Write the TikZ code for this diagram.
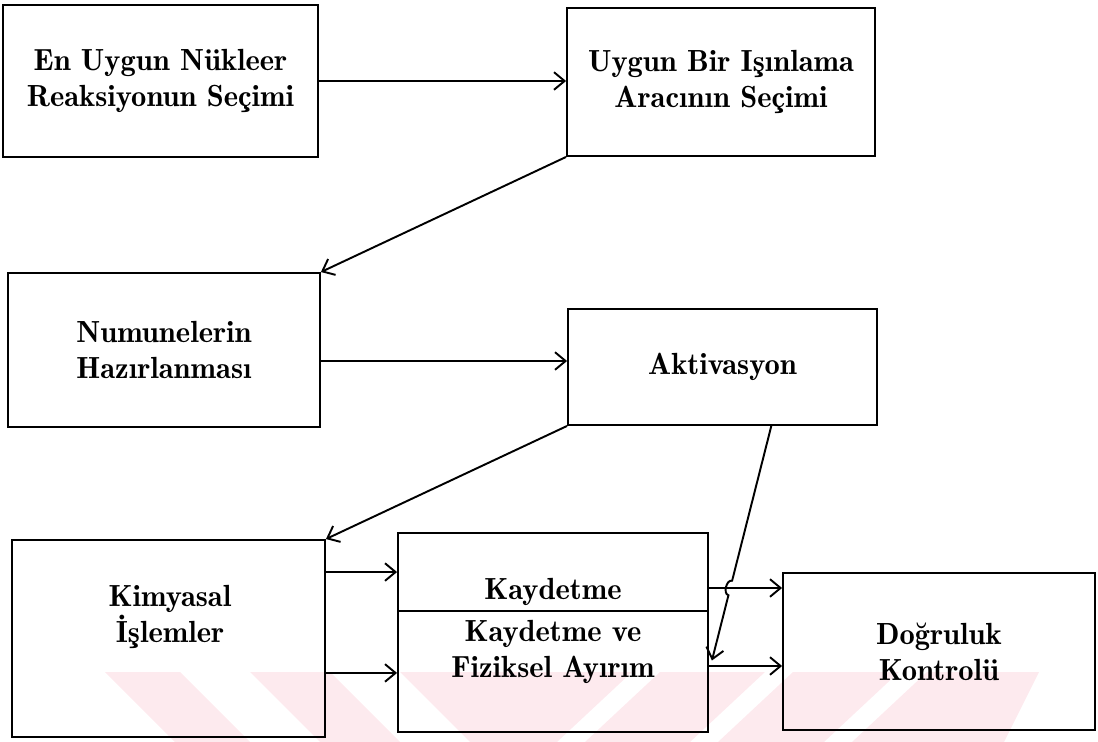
\documentclass[tikz,border=0pt]{standalone}
\usetikzlibrary{arrows.meta,calc}
\definecolor{wmpink}{RGB}{253,234,238}
\tikzset{
	box/.style={draw, line width=1.1pt, align=center, inner sep=0pt},
	txt/.style={align=center, inner sep=0pt},
	arr/.style={line width=1.1pt, -{Straight Barb[length=6pt,width=10pt,line width=1.1pt]}},
}

\begin{document}
\begin{tikzpicture}[x=0.02cm, y=-0.02cm, font=\fontsize{17.4}{20.5}\fontseries{b}\selectfont]
		%%%%% START %%%%%
		\useasboundingbox (0,0) rectangle (1098,742);
		
		\fill[wmpink] (105,672) -- (180,672) -- (250,742) -- (175,742) -- cycle;
		\fill[wmpink] (250,672) -- (330,672) -- (400,742) -- (320,742) -- cycle;
		\fill[wmpink] (400,672) -- (632,672) -- (557,742) -- (470,742) -- cycle;
		\fill[wmpink] (660,672) -- (765,672) -- (690,742) -- (585,742) -- cycle;
		\fill[wmpink] (793,672) -- (899,672) -- (824,742) -- (718,742) -- cycle;
		\fill[wmpink] (927,672) -- (1039,672) -- (1004,742) -- (852,742) -- cycle;
		
		\node[box, minimum width=6.3cm, minimum height=3.04cm] (nukleer) at (160.5,81) {En Uygun Nükleer\\Reaksiyonun Seçimi};
		\node[box, minimum width=6.16cm, minimum height=2.96cm] (isinlama) at (721,82) {Uygun Bir Işınlama\\Aracının Seçimi};
		\node[box, minimum width=6.24cm, minimum height=3.08cm] (numune) at (164,350) {Numunelerin\\Hazırlanması};
		\node[box, minimum width=6.18cm, minimum height=2.32cm] (aktivasyon) at (722.5,367) {Aktivasyon};
		
		\node[box, minimum width=6.26cm, minimum height=3.94cm] (kimyasal) at (168.5,638.5) {};
		\node[txt] (kimyasalT) at (170,617) {Kimyasal\\İşlemler};
		
		\node[box, minimum width=6.2cm, minimum height=1.56cm] (kayit) at (553,572) {};
		\node[box, minimum width=6.2cm, minimum height=2.42cm] (ayirim) at (553,671.5) {};
		\node[txt] (kayitT) at (553,592) {Kaydetme};
		\node[txt] (ayirimT) at (553,652) {Kaydetme ve\\Fiziksel Ayırım};
		
		\node[box, minimum width=6.24cm, minimum height=3.14cm] (dogruluk) at (939,651.5) {Doğruluk\\Kontrolü};
		
		\draw[arr] (nukleer.east) -- (nukleer.east -| isinlama.west);
		\draw[arr] (isinlama.south west) -- (numune.north east);
		\coordinate (n1) at ($(numune.east)+(0,11)$);
		\draw[arr] (n1) -- (n1 -| aktivasyon.west);
		\draw[arr] (aktivasyon.south west) -- (kimyasal.north east);
		
		\coordinate (m1) at ($(kimyasal.north east)+(0,33)$);
		\coordinate (m2) at ($(kimyasal.south east)+(0,-65)$);
		\draw[arr] (m1) -- (m1 -| kayit.west);
		\draw[arr] (m2) -- (m2 -| ayirim.west);
		
		\coordinate (k1) at ($(kayit.east)+(0,16)$);
		\coordinate (k1e) at (k1 -| dogruluk.west);
		\coordinate (k2) at ($(ayirim.east)+(0,-5.5)$);
		\draw[arr] (k1) -- (k1e);
		\draw[arr] (k2) -- (k2 -| dogruluk.west);
		
		\coordinate (aktB) at ($(aktivasyon.south west)!0.657!(aktivasyon.south east)$);
		\coordinate (ayrR) at ($(ayirim.east)+(3,-11)$);
		\coordinate (hop) at (intersection of aktB--ayrR and k1--k1e);
		\coordinate (hopA) at ($(hop)!0.15cm!(aktB)$);
		\coordinate (hopB) at ($(hop)!0.15cm!(ayrR)$);
		\draw[arr] (aktB) -- (hopA) to[bend right=90] (hopB) -- (ayrR);
		
		%%%%% END %%%%%
\end{tikzpicture}
\end{document}
